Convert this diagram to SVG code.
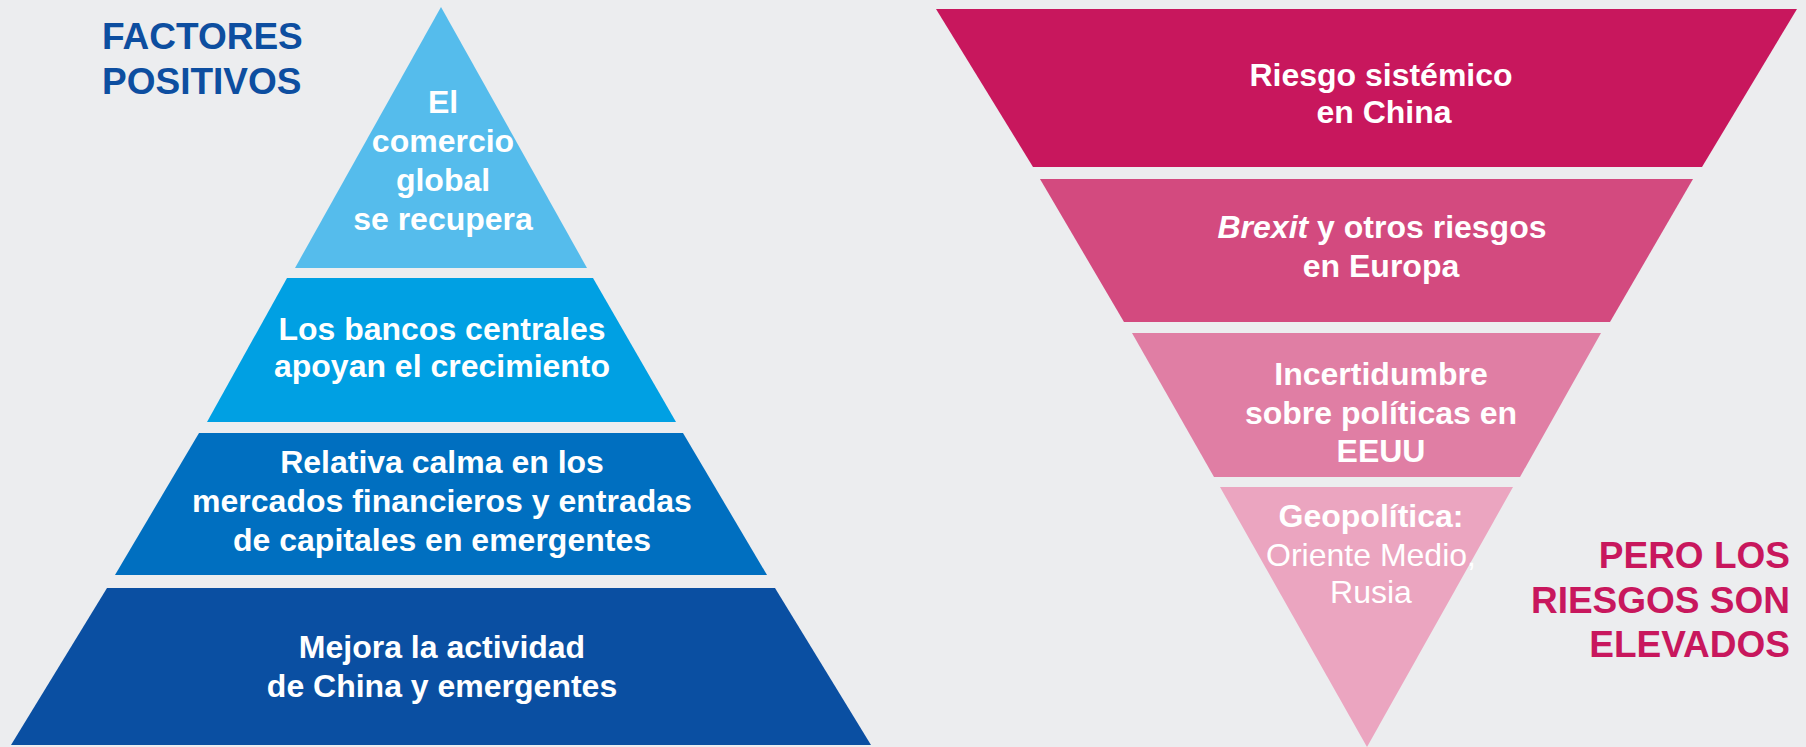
<svg xmlns="http://www.w3.org/2000/svg" width="1806" height="747" viewBox="0 0 1806 747">
<style>
.t{font-family:"Liberation Sans",Arial,sans-serif;font-weight:bold;fill:#fff;font-size:32px;text-anchor:middle}
.r{font-weight:normal}
.h{font-family:"Liberation Sans",Arial,sans-serif;font-weight:bold;font-size:37px}
</style>
<rect x="0" y="0" width="1806" height="747" fill="#ECEDEF"/>
<g id="factores-title"><text class="h" fill="#0D4EA0" x="102" y="49">FACTORES</text><text class="h" fill="#0D4EA0" x="102" y="94">POSITIVOS</text></g>
<g id="comercio"><polygon points="441,7 587,268 295,268" fill="#55BCEC"/>
<text class="t" x="443" y="113">El</text><text class="t" x="443" y="152">comercio</text><text class="t" x="443" y="191">global</text><text class="t" x="443" y="230">se recupera</text></g>
<g id="bancos"><polygon points="287,278 593,278 676,422 207,422" fill="#00A0E3"/>
<text class="t" x="442" y="340">Los bancos centrales</text><text class="t" x="442" y="377">apoyan el crecimiento</text></g>
<g id="calma"><polygon points="199,433 683,433 767,575 115,575" fill="#006FC0"/>
<text class="t" x="442" y="473">Relativa calma en los</text><text class="t" x="442" y="512">mercados financieros y entradas</text><text class="t" x="442" y="551">de capitales en emergentes</text></g>
<g id="china-emergentes"><polygon points="107,588 775,588 871,745 11,745" fill="#0A4FA2"/>
<text class="t" x="442" y="658">Mejora la actividad</text><text class="t" x="442" y="697">de China y emergentes</text></g>
<g id="riesgo-china"><polygon points="936,9 1797,9 1702,167 1033,167" fill="#C8175D"/>
<text class="t" x="1381" y="86">Riesgo sistémico</text><text class="t" x="1384" y="123">en China</text></g>
<g id="brexit"><polygon points="1040,179 1693,179 1610,322 1124,322" fill="#D34A7F"/>
<text class="t" x="1382" y="238"><tspan font-style="italic">Brexit</tspan> y otros riesgos</text><text class="t" x="1381" y="277">en Europa</text></g>
<g id="eeuu"><polygon points="1132,333 1601,333 1520,477 1214,477" fill="#E07EA4"/>
<text class="t" x="1381" y="385">Incertidumbre</text><text class="t" x="1381" y="424">sobre políticas en</text><text class="t" x="1381" y="462">EEUU</text></g>
<g id="geopolitica"><polygon points="1220,487 1513,487 1367,747" fill="#EBA5C0"/>
<text class="t" x="1371" y="527">Geopolítica:</text><text class="t r" x="1371" y="566">Oriente Medio,</text><text class="t r" x="1371" y="603">Rusia</text></g>
<g id="riesgos-title"><text class="h" fill="#C8175D" text-anchor="end" x="1790" y="568">PERO LOS</text><text class="h" fill="#C8175D" text-anchor="end" x="1790" y="613">RIESGOS SON</text><text class="h" fill="#C8175D" text-anchor="end" x="1790" y="657">ELEVADOS</text></g>
<g id="connectors"/>
</svg>
